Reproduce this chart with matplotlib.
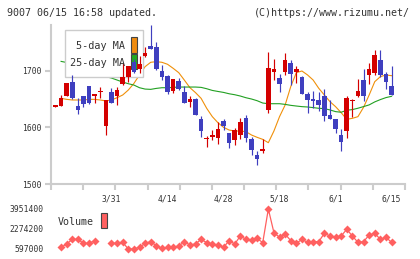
import numpy as np
import matplotlib
matplotlib.use("Agg")
import matplotlib.pyplot as plt
from matplotlib.patches import Rectangle

# --- data (61 trading days, 3/17 .. 6/15) ---
dates = ["3/31", "4/14", "4/28", "5/18", "6/1", "6/15"]
date_idx = [10, 20, 30, 40, 50, 60]

opens = [1637, 1638, 1656, 1681, 1638, 1655, 1674, 1656, 1662, 1603,
         1663, 1655, 1677, 1690, 1716, 1703, 1727, 1744, 1742, 1700,
         1691, 1665, 1683, 1663, 1646, 1650, 1615, 1579, 1583, 1582,
         1611, 1590, 1577, 1587, 1616, 1580, 1551, 1559, 1631, 1699,
         1687, 1699, 1715, 1699, 1689, 1660, 1650, 1649, 1656, 1622,
         1615, 1587, 1593, 1647, 1655, 1684, 1693, 1697, 1720, 1694,
         1674]
highs = [1638, 1657, 1679, 1693, 1652, 1656, 1674, 1660, 1672, 1648,
         1670, 1672, 1714, 1709, 1722, 1727, 1742, 1781, 1751, 1711,
         1693, 1686, 1687, 1674, 1656, 1653, 1620, 1585, 1596, 1609,
         1615, 1590, 1599, 1617, 1623, 1583, 1559, 1580, 1733, 1722,
         1694, 1732, 1720, 1708, 1691, 1662, 1665, 1662, 1669, 1649,
         1615, 1597, 1656, 1650, 1685, 1703, 1715, 1737, 1737, 1699,
         1708]
lows = [1637, 1638, 1656, 1650, 1624, 1636, 1642, 1643, 1653, 1587,
        1644, 1640, 1675, 1681, 1696, 1696, 1724, 1739, 1702, 1684,
        1659, 1661, 1666, 1644, 1637, 1622, 1584, 1565, 1578, 1571,
        1596, 1563, 1569, 1580, 1575, 1551, 1534, 1555, 1625, 1684,
        1662, 1693, 1675, 1679, 1660, 1626, 1634, 1630, 1612, 1615,
        1591, 1558, 1581, 1619, 1654, 1647, 1677, 1693, 1689, 1668,
        1657]
closes = [1638, 1652, 1679, 1652, 1631, 1642, 1643, 1658, 1665, 1648,
          1644, 1666, 1690, 1708, 1699, 1712, 1732, 1739, 1703, 1690,
          1662, 1685, 1668, 1644, 1650, 1622, 1594, 1582, 1587, 1597,
          1603, 1573, 1596, 1610, 1581, 1560, 1544, 1562, 1705, 1703,
          1677, 1720, 1694, 1703, 1660, 1649, 1647, 1640, 1620, 1615,
          1597, 1575, 1652, 1649, 1665, 1656, 1703, 1728, 1693, 1681,
          1658]

ma5 = [np.nan,
       1651.6, 1649.8, 1648.7, 1648.7, 1648.7, 1649.8, 1649.8, 1648.7, 1647.0, 1648.7,
       1652.8, 1657.5, 1666.3, 1678.0, 1693.0, 1707.7, 1715.4, 1716.5, 1715.4, 1711.9,
       1704.8, 1697.1, 1684.0, 1670.5, 1661.7, 1651.6, 1633.9, 1619.2, 1608.5, 1600.3,
       1595.5, 1593.8, 1593.8, 1592.6, 1586.7, 1582.6, 1579.0, 1573.1, 1593.8, 1619.2,
       1639.8, 1672.3, 1697.1, 1700.0, 1693.0, 1684.0, 1669.4, 1657.5, 1645.8, 1636.9,
       1626.3, 1614.5, 1616.2, 1619.2, 1635.7, 1657.5, 1681.1, 1690.0, 1693.0, 1691.7]
ma25 = [np.nan,
        1717.0, 1715.0, 1712.0, 1709.0, 1705.0, 1701.0, 1697.0, 1693.0, 1690.0, 1687.5,
        1684.0, 1680.4, 1677.5, 1675.1, 1670.4, 1668.0, 1667.5, 1669.2, 1670.4, 1670.4,
        1671.0, 1671.6, 1671.6, 1671.6, 1671.6, 1671.0, 1668.6, 1665.6, 1663.8, 1662.1,
        1659.7, 1658.0, 1655.7, 1652.7, 1650.4, 1647.4, 1643.3, 1642.1, 1642.1, 1642.1,
        1640.9, 1639.2, 1638.0, 1636.9, 1636.3, 1635.2, 1634.0, 1633.4, 1631.1, 1628.1,
        1627.0, 1630.5, 1631.7, 1634.1, 1637.0, 1640.0, 1645.3, 1649.4, 1652.9, 1655.2]

volume = [np.nan,
          737000, 1016000, 1408000, 1408000, 1072000, 1072000, 1296000, np.nan, np.nan, 1072000,
          1072000, 1156000, 597000, 597000, 737000, 1072000, 1212000, 877000, 653000, 737000,
          737000, 849000, 1212000, 932000, 1016000, 1408000, 1128000, 1016000, 932000, 737000,
          1296000, 1016000, 1687000, 1408000, 1352000, 1492000, 1128000, 3951400, 1967000, 1575000,
          1855000, 1296000, 1072000, 1408000, 1156000, 1212000, 1212000, 1911000, 1687000, 1575000,
          1687000, 2246000, 1687000, 1156000, 1212000, 1771000, 1911000, 1408000, 1575000, 1156000]
vol_ticks = [597000, 2274200, 3951400]
price_ticks = [1500, 1600, 1700]

# --- layout helpers (pixel -> figure fraction) ---
W, H = 420, 259
def fx(px): return px / W
def fy(py): return 1 - py / H
def box(l, t, r, b): return [fx(l), fy(b), (r - l) / W, (b - t) / H]

MONO = "DejaVu Sans Mono"
TXT = "#333333"
GRID = "#cccccc"
RED, BLUE = "#d40000", "#3f3fbf"

fig = plt.figure(figsize=(W / 100, H / 100), dpi=100)
ax = fig.add_axes(box(51, 25, 405, 184))
axv = fig.add_axes(box(51, 205, 405, 255))

x = np.arange(len(opens))
o, h, l, c = map(np.array, (opens, highs, lows, closes))
up = c >= o
col = np.where(up, RED, BLUE)

# moving averages (under the legend box and candles)
ax.plot(x, ma5, color="#f0900a", lw=0.8, zorder=2)
ax.plot(x, ma25, color="#22a022", lw=0.8, zorder=2)

# candles
ax.vlines(x, l, h, colors=col, lw=0.85, zorder=4)
body_lo = np.minimum(o, c)
body_h = np.maximum(np.abs(c - o), 2.5)
ax.bar(x, body_h, bottom=body_lo, width=0.82, color=col, lw=0, zorder=4)

ax.set_xlim(-0.8, 62.4)
ax.set_ylim(1500, 1781.4)
for s in ("top", "right"):
    ax.spines[s].set_visible(False)
for s in ("left", "bottom"):
    ax.spines[s].set_color(GRID)
    ax.spines[s].set_linewidth(1.5)
ax.set_yticks(price_ticks, [str(v) for v in price_ticks])
ax.tick_params(axis="y", length=4, width=1.5, color=GRID, labelcolor=TXT,
               labelsize=5.8, pad=3)
for t in ax.get_yticklabels():
    t.set_family(MONO)
ax.set_xticks(np.linspace(-0.8, 62.4, 12), [])
ax.set_xticks(date_idx, dates, minor=True)
ax.tick_params(axis="x", which="major", length=4, width=1.5, color=GRID)
ax.tick_params(axis="x", which="minor", length=0, pad=7.3, labelsize=5.8,
               labelcolor=TXT)
for t in ax.get_xticklabels(minor=True):
    t.set_family(MONO)

# MA legend box (inside the axes, above MA lines, below candles)
ax.add_patch(Rectangle((fx(65), fy(77)), (143 - 65) / W, (77 - 30) / H,
                       transform=fig.transFigure, facecolor="white",
                       edgecolor=GRID, lw=1.0, zorder=3))
ax.add_patch(Rectangle((fx(131), fy(53)), 6 / W, 16 / H, transform=fig.transFigure,
                       facecolor="#f08c10", edgecolor="#444444", lw=0.8, zorder=3.5))
ax.add_patch(Rectangle((fx(131), fy(69)), 6 / W, 15 / H, transform=fig.transFigure,
                       facecolor="#22aa22", edgecolor="#444444", lw=0.8, zorder=3.5))
fig.text(fx(125), fy(46), "5-day MA", ha="right", va="center", fontsize=7.3,
         family=MONO, color=TXT)
fig.text(fx(125), fy(63), "25-day MA", ha="right", va="center", fontsize=7.3,
         family=MONO, color=TXT)

# volume panel
axv.plot(x, volume, color="#ff6060", lw=0.9, marker="D", ms=4.0, mec="none")
vspan = (vol_ticks[-1] - vol_ticks[0]) / 40.0  # 40 px between min and max labels
axv.set_ylim(vol_ticks[0] - 6 * vspan, vol_ticks[-1] + 4 * vspan)
axv.set_xlim(-0.8, 62.4)
for s in axv.spines.values():
    s.set_visible(False)
axv.set_xticks([])
axv.set_yticks(vol_ticks, [str(v) for v in vol_ticks])
axv.tick_params(axis="y", length=0, pad=5, labelsize=5.8, labelcolor=TXT)
for t in axv.get_yticklabels():
    t.set_family(MONO)
fig.text(fx(58), fy(222), "Volume", ha="left", va="center", fontsize=7.2,
         family=MONO, color=TXT)
fig.add_artist(Rectangle((fx(101), fy(228)), 6 / W, 15 / H, transform=fig.transFigure,
                         facecolor="#ff6060", edgecolor="#444444", lw=0.8))

# header
fig.text(fx(7), fy(13), "9007 06/15 16:58 updated.", ha="left", va="center",
         fontsize=7.2, family=MONO, color=TXT)
fig.text(fx(410), fy(13), "(C)https://www.rizumu.net/", ha="right", va="center",
         fontsize=7.2, family=MONO, color=TXT)

fig.savefig("out.png", dpi=100, facecolor="white")
